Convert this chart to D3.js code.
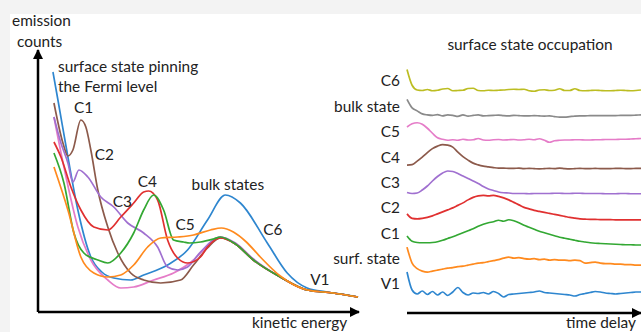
<!DOCTYPE html>
<html>
<head>
<meta charset="utf-8">
<script src="https://cdn.jsdelivr.net/npm/d3@7"></script>
<style>
  body { margin: 0; background: #f3f3f3; }
  svg { display: block; font-family: Lato, "Open Sans", sans-serif; }
</style>
</head>
<body>
<svg id="chart"></svg>
<script>
// Left panel: energy spectra, [kinetic energy, emission counts] in arbitrary units
const specPinning = [[0.75,24.0],[1.0,21.2],[1.5,15.5],[2.0,10.2],[2.65,5.5],[3.2,4.0],[3.8,3.4],[4.65,3.2],[5.3,3.7],[6.5,4.7],[7.5,6.2],[8.5,9.2],[9.4,11.7],[10.15,10.9],[11.5,6.9],[12.5,3.9],[13.5,2.4],[14.5,2.0],[15.5,1.7],[16.05,1.5]];
const specC1 = [[0.8,20.9],[1.25,16.9],[1.5,15.6],[1.75,16.2],[2.15,19.2],[2.4,18.5],[2.65,16.2],[3.0,12.2],[3.5,8.5],[4.0,5.9],[4.65,3.9],[5.3,3.2],[6.15,2.9],[7.15,3.2],[7.8,4.7],[8.5,6.4],[9.15,7.4],[9.9,6.8],[10.8,5.2],[12.15,3.5],[13.5,2.2],[14.8,1.9],[16.05,1.5]];
const specC2 = [[0.8,19.5],[1.15,16.9],[1.5,14.9],[1.75,13.0],[2.05,14.2],[2.5,13.5],[3.15,11.5],[3.8,10.5],[4.5,8.9],[5.3,7.9],[6.0,6.5],[6.5,4.5],[7.0,4.2],[7.5,4.5],[8.15,6.0],[9.15,7.5],[9.9,6.9],[10.8,5.3],[12.15,3.5],[13.5,2.2],[14.8,1.9],[16.05,1.5]];
const specC3 = [[0.8,17.0],[1.15,15.5],[1.65,12.5],[2.15,10.2],[2.8,8.5],[3.5,8.2],[4.15,9.5],[4.8,10.9],[5.3,12.0],[5.55,12.1],[6.0,11.2],[6.5,7.2],[7.0,5.4],[7.5,4.9],[8.15,5.5],[8.5,6.5],[9.15,7.4],[9.9,6.8],[10.8,5.2],[12.15,3.5],[13.5,2.2],[14.8,1.9],[16.05,1.5]];
const specC4 = [[0.8,15.9],[1.3,12.9],[1.8,7.9],[2.3,5.9],[3.0,5.2],[3.5,4.9],[4.15,5.9],[4.8,7.9],[5.3,10.2],[5.8,11.7],[6.3,10.2],[6.8,7.2],[7.3,7.0],[7.6,6.9],[8.15,7.0],[8.8,7.3],[9.15,7.5],[9.9,6.8],[10.8,5.2],[12.15,3.5],[13.5,2.2],[14.8,1.9],[16.05,1.5]];
const specC5 = [[0.8,14.5],[1.5,10.2],[2.15,5.5],[2.8,3.9],[3.5,3.5],[4.15,3.7],[4.8,4.7],[5.5,6.5],[6.15,7.4],[7.0,7.5],[7.8,7.7],[8.65,8.2],[9.2,8.4],[9.8,8.0],[10.45,7.0],[11.15,5.5],[12.15,3.6],[13.5,2.2],[14.8,1.9],[16.05,1.5]];
const specC6 = [[0.8,19.5],[1.3,14.5],[2.0,8.5],[2.65,5.2],[3.5,3.2],[4.15,2.4],[4.8,2.5],[5.8,3.2],[6.8,3.9],[7.8,5.2],[8.5,6.6],[9.15,7.5],[9.9,6.8],[10.8,5.2],[12.15,3.5],[13.5,2.2],[14.8,1.9],[16.05,1.5]];

const spectra = [
  {name: 'pinning', values: specPinning, color: '#2e86cf'},
  {name: 'C6', values: specC6, color: '#e57cc8'},
  {name: 'C1', values: specC1, color: '#8c5a4b'},
  {name: 'C2', values: specC2, color: '#a070d0'},
  {name: 'C3', values: specC3, color: '#e03030'},
  {name: 'C4', values: specC4, color: '#33a833'},
  {name: 'C5', values: specC5, color: '#ff8a1e'}
];

const spectrumLabels = ['C1', 'C2', 'C3', 'C4', 'C5', 'C6', 'V1', 'bulk states'];

// Right panel: surface state occupation vs. time delay, one trace per state
const occupationLabels = ['C6', 'bulk state', 'C5', 'C4', 'C3', 'C2', 'C1', 'surf. state', 'V1'];
const occupationColors = ['#bcbd22', '#8a8a8a', '#e57cc8', '#8c5a4b', '#a070d0', '#e03030', '#33a833', '#ff8a1e', '#2e86cf'];

const occC6 = [8.2,1.9,0.0,-0.2,0.2,-0.3,-0.1,0.4,0.6,-0.3, -0.2,-0.1,0.6,0.7,-0.2,-0.3,-0.1,-0.2,-0.1,0.0, 0.2,0.3,0.2,0.3,-0.3,-0.5,0.0,0.1,-0.2,-0.1, 0.5,-0.2,-0.2,0.5,-0.2,-0.3,-0.2,-0.1,-0.2,-0.3, -0.3,-0.2,-0.1,-0.2,-0.3,-0.2,0.0];
const occBulk = [6.4,3.0,1.8,0.6,0.2,0.0,0.3,-0.2,0.2,0.0, -0.4,0.2,-0.3,0.0,0.2,-0.2,-0.1,0.0,0.1,-0.1, -0.2,0.0,-0.1,-0.2,-0.2,-0.1,-0.2,-0.3,-0.2,-0.5, -0.7,-0.7,-0.5,-0.3,-0.2,-0.2,-0.1,-0.1,-0.1,-0.1, -0.1,-0.1,0.0,0.0,0.0,0.1,0.2];
const occC5 = [5.5,6.8,7.2,6.6,5.0,3.0,1.2,0.6,0.2,0.4, 0.2,0.6,0.3,0.4,0.9,0.3,0.2,0.4,0.5,0.3, 0.4,0.5,0.3,0.4,0.6,0.4,0.8,0.2,-0.6,0.0, 0.2,0.3,0.3,0.4,0.4,0.3,0.3,0.4,0.4,0.5, 0.5,0.5,0.6,0.6,0.7,0.8,0.9];
const occC4 = [0.4,0.6,2.0,3.6,5.4,7.0,8.0,8.6,8.4,7.6, 5.6,3.8,2.4,1.2,0.5,0.0,-0.3,-0.6,-0.8,-0.8, -0.9,-0.9,-0.8,-1.0,-0.9,-1.0,-1.1,-1.0,-0.9,-1.0, -0.8,-1.0,-1.1,-1.0,-0.9,-1.0,-1.0,-0.9,-1.0,-1.0, -1.0,-0.9,-0.9,-1.0,-1.0,-0.9,-0.9];
const occC3 = [-0.4,-0.8,-0.6,0.6,2.2,4.2,6.0,7.4,8.2,8.0, 7.2,6.2,5.2,4.2,3.2,2.0,1.0,0.4,-0.2,-0.5, -0.6,-0.8,-0.8,-0.8,-0.9,-0.8,-0.8,-0.8,-0.8,-0.7, -0.7,-0.8,-0.8,-0.7,-0.7,-0.8,-0.8,-0.8,-0.8,-0.9, -0.9,-0.9,-0.8,-0.8,-0.9,-0.9,-0.9];
const occC2 = [1.2,-0.6,-0.8,-0.6,-0.2,0.4,1.2,2.0,2.8,3.6, 4.6,5.6,6.8,7.8,8.4,8.6,8.4,8.6,8.2,7.6, 6.8,5.8,4.8,3.8,3.2,2.6,2.2,1.8,1.4,1.0, 0.6,0.2,-0.2,-0.5,-0.8,-0.9,-1.0,-1.0,-1.1,-1.1, -1.1,-1.2,-1.2,-1.2,-1.2,-1.2,-1.2];
const occC1 = [2.5,0.4,-0.1,-0.2,-0.2,-0.1,0.2,0.8,1.5,2.2, 3.0,3.8,4.6,5.4,6.4,7.2,7.8,8.2,8.8,8.4, 9.0,8.6,7.8,6.8,6.0,5.2,4.4,3.8,3.2,2.6, 2.0,1.6,1.2,0.8,0.4,0.1,-0.2,-0.4,-0.5,-0.6, -0.7,-0.8,-0.9,-1.0,-1.0,-1.1,-1.1];
const occSurf = [8.2,1.8,-0.4,-1.4,-1.8,-1.4,-1.0,-0.6,-0.2,0.0, 0.4,0.6,1.0,1.4,1.8,2.0,2.4,2.8,3.2,3.8, 4.2,3.8,4.0,3.6,3.4,3.6,3.2,3.4,3.0,3.2, 3.0,3.0,2.8,3.0,2.8,1.8,2.0,2.2,1.8,1.6, 1.6,1.4,1.4,1.2,1.2,1.0,1.0];
const occV1 = [8.4,1.2,-0.4,0.8,-0.6,0.6,-0.8,0.4,-1.0,0.4, 2.2,0.2,-0.8,0.0,-0.2,0.2,-0.4,0.6,-0.2,-1.6, -0.6,-0.4,-0.2,0.0,0.2,0.4,0.8,0.2,0.0,-0.2, -0.4,-0.6,-0.8,-1.2,-0.6,-0.2,0.2,0.6,0.4,0.0, -0.2,-0.4,-0.2,0.0,0.2,0.4,0.4];

const occupation = [occC6, occBulk, occC5, occC4, occC3, occC2, occC1, occSurf, occV1];

const width = 641;
const height = 332;

const svg = d3.select('#chart')
  .attr('width', width)
  .attr('height', height);

// white slide area, leaving the grey strip top and left
svg.append('rect')
  .attr('x', 10).attr('y', 14)
  .attr('width', width - 10).attr('height', height - 14)
  .attr('fill', '#fff');

const defs = svg.append('defs');
defs.append('marker')
  .attr('id', 'arrow')
  .attr('viewBox', '0 0 10 10')
  .attr('refX', 9).attr('refY', 5)
  .attr('markerWidth', 4).attr('markerHeight', 4)
  .attr('markerUnits', 'strokeWidth')
  .attr('orient', 'auto')
  .append('path')
  .attr('d', 'M0,0L10,5L0,10z')
  .attr('fill', '#000');

// ---- left panel ----
const xEnergy = d3.scaleLinear().domain([0, 16.1]).range([38, 359]);
const yCounts = d3.scaleLinear().domain([0, 26]).range([312, 52]);

const spectrumLine = d3.line()
  .x(d => xEnergy(d[0]))
  .y(d => yCounts(d[1]))
  .curve(d3.curveMonotoneX);

svg.append('g')
  .selectAll('path')
  .data(spectra)
  .join('path')
  .attr('d', d => spectrumLine(d.values))
  .attr('fill', 'none')
  .attr('stroke', d => d.color)
  .attr('stroke-width', 1.7);

// axes with arrow heads
const left = svg.append('g')
  .attr('stroke', '#000')
  .attr('stroke-width', 2.5);
left.append('line')
  .attr('x1', xEnergy(0)).attr('y1', yCounts(0))
  .attr('x2', xEnergy(0)).attr('y2', yCounts(26.2))
  .attr('marker-end', 'url(#arrow)');
left.append('line')
  .attr('x1', xEnergy(0)).attr('y1', yCounts(0))
  .attr('x2', xEnergy(16.1)).attr('y2', yCounts(0))
  .attr('marker-end', 'url(#arrow)');

const text = (x, y, str, anchor = 'start') => svg.append('text')
  .attr('x', x).attr('y', y)
  .attr('dy', '0.35em')
  .attr('text-anchor', anchor)
  .attr('font-size', 15.4)
  .attr('fill', '#222')
  .text(str);

text(12, 21, 'emission');
text(17, 42, 'counts');
text(252, 323, 'kinetic energy');
text(58, 67, 'surface state pinning');
text(58, 87, 'the Fermi level');

// annotation spots for the spectrum labels (energy, counts)
const labelSpots = [[1.8, 20.4], [2.85, 15.7], [3.75, 11.0], [5.0, 13.0], [6.9, 8.7], [11.3, 8.2], [13.65, 3.2], [7.7, 12.7]];
spectrumLabels.forEach((name, i) => {
  text(xEnergy(labelSpots[i][0]), yCounts(labelSpots[i][1]), name);
});

// ---- right panel ----
const xDelay = d3.scaleLinear().domain([0, occC6.length - 1]).range([407, 641]);
const yBase = d3.scalePoint().domain(occupationLabels).range([90, 293]);
const ySignal = d3.scaleLinear().domain([0, 10]).range([0, -25]);

const occLine = d3.line()
  .x((d, i) => xDelay(i))
  .y(d => ySignal(d))
  .curve(d3.curveMonotoneX);

const traces = svg.append('g')
  .selectAll('g')
  .data(occupation)
  .join('g')
  .attr('transform', (d, i) => `translate(0,${yBase(occupationLabels[i])})`);

traces.append('path')
  .attr('d', d => occLine(d))
  .attr('fill', 'none')
  .attr('stroke', (d, i) => occupationColors[i])
  .attr('stroke-width', 1.7);

occupationLabels.forEach(name => {
  text(400, yBase(name) - 9, name, 'end');
});

text(530, 45, 'surface state occupation', 'middle');
text(636, 323, 'time delay', 'end');

svg.append('line')
  .attr('x1', 407).attr('y1', 313)
  .attr('x2', 641).attr('y2', 313)
  .attr('stroke', '#000')
  .attr('stroke-width', 2.5)
  .attr('marker-end', 'url(#arrow)');
</script>
</body>
</html>
